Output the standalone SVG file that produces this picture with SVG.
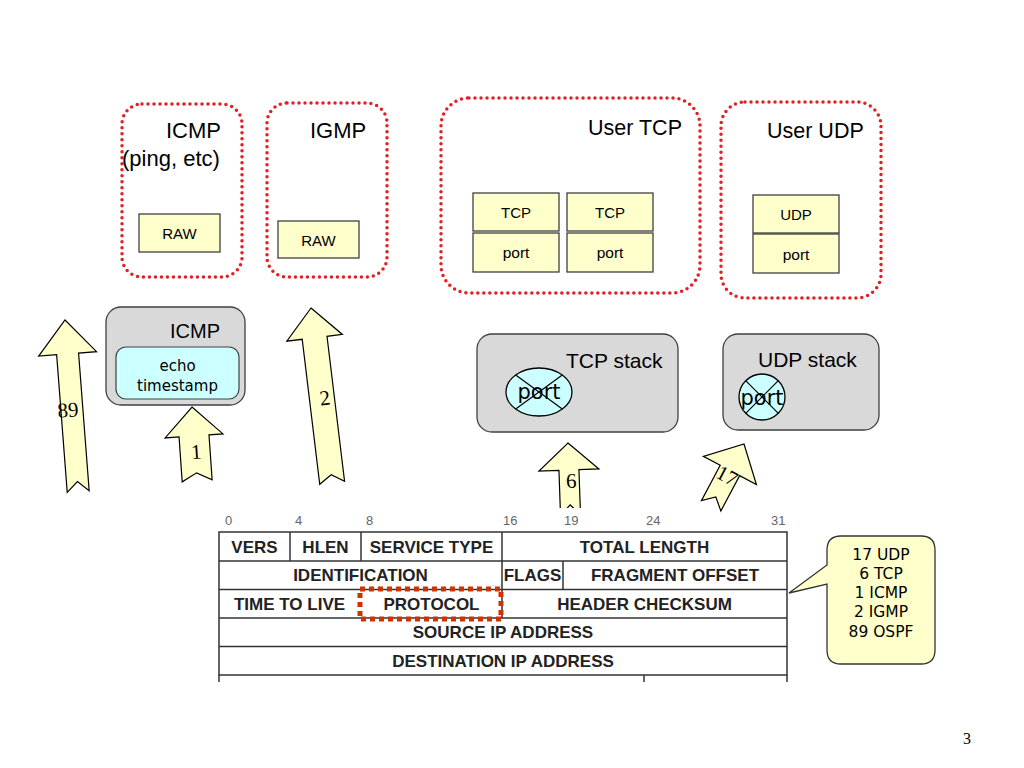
<svg xmlns="http://www.w3.org/2000/svg" width="1024" height="768" viewBox="0 0 1024 768">
<style>
.dot{fill:none;stroke:#e31e24;stroke-width:3.5;stroke-dasharray:0 6;stroke-linecap:round}
.t{font-family:"Liberation Sans",Arial,sans-serif;fill:#000}
.c{font-family:"DejaVu Sans","Noto Sans",sans-serif;fill:#000}
.ybox{fill:#ffffcc;stroke:#404040;stroke-width:1.3}
.gray{fill:#d9d9d9;stroke:#404040;stroke-width:1.3}
.arr{fill:#ffffcc;stroke:#000;stroke-width:1.2;stroke-linejoin:miter}
.al{font-family:"Liberation Serif","Times New Roman",serif;font-size:21px;fill:#000;text-anchor:middle}
.cell{stroke:#333;stroke-width:1.5;fill:none}
.tb{font-family:"Liberation Sans",Arial,sans-serif;font-weight:bold;font-size:17px;fill:#222;text-anchor:middle}
.bit{font-family:"Liberation Sans",Arial,sans-serif;font-size:13px;fill:#666}
</style>
<rect width="1024" height="768" fill="#fff"/>

<g id="user-icmp">
<rect class="dot" x="122" y="104" width="120" height="173" rx="20"/>
<text class="t" x="166" y="138" font-size="22">ICMP</text>
<text class="t" x="122" y="166" font-size="22">(ping, etc)</text>
<rect class="ybox" x="139" y="214" width="81" height="38"/>
<text class="t" x="179.5" y="239" font-size="15" text-anchor="middle">RAW</text>
</g>

<g id="user-igmp">
<rect class="dot" x="267" y="103" width="120" height="174" rx="20"/>
<text class="t" x="310" y="138" font-size="22">IGMP</text>
<rect class="ybox" x="278" y="221" width="81" height="37"/>
<text class="t" x="318.5" y="246" font-size="15" text-anchor="middle">RAW</text>
</g>

<g id="user-tcp">
<rect class="dot" x="441" y="98" width="259" height="195" rx="28"/>
<text class="t" x="588" y="135" font-size="21.5">User TCP</text>
<rect class="ybox" x="473" y="193" width="86" height="38"/>
<rect class="ybox" x="473" y="233" width="86" height="39"/>
<text class="t" x="516" y="218" font-size="15" text-anchor="middle">TCP</text>
<text class="t" x="516" y="258" font-size="15.5" text-anchor="middle">port</text>
<rect class="ybox" x="567" y="193" width="86" height="38"/>
<rect class="ybox" x="567" y="233" width="86" height="39"/>
<text class="t" x="610" y="218" font-size="15" text-anchor="middle">TCP</text>
<text class="t" x="610" y="258" font-size="15.5" text-anchor="middle">port</text>
</g>

<g id="user-udp">
<rect class="dot" x="721" y="102" width="160" height="196" rx="24"/>
<text class="t" x="767" y="138" font-size="21.5">User UDP</text>
<rect class="ybox" x="753" y="195" width="86" height="38"/>
<rect class="ybox" x="753" y="234" width="86" height="39"/>
<text class="t" x="796" y="220" font-size="15" text-anchor="middle">UDP</text>
<text class="t" x="796" y="260" font-size="15.5" text-anchor="middle">port</text>
</g>

<g id="icmp-stack">
<rect class="gray" x="106" y="307" width="139" height="98" rx="15"/>
<text class="t" x="170" y="338" font-size="20">ICMP</text>
<rect x="116" y="347" width="123" height="52" rx="10" fill="#ccffff" stroke="#404040" stroke-width="1.2"/>
<text class="c" x="177.5" y="371" font-size="15" text-anchor="middle">echo</text>
<text class="c" x="177.5" y="391" font-size="15" text-anchor="middle">timestamp</text>
</g>

<g id="tcp-stack">
<rect class="gray" x="477" y="334" width="201" height="98" rx="15"/>
<text class="t" x="566" y="368" font-size="21">TCP stack</text>
<ellipse cx="539" cy="392" rx="33" ry="24" fill="#ccffff" stroke="#000" stroke-width="1.3"/>
<line x1="515.7" y1="375" x2="562.3" y2="409" stroke="#000" stroke-width="1.2"/>
<line x1="562.3" y1="375" x2="515.7" y2="409" stroke="#000" stroke-width="1.2"/>
<text class="c" x="539" y="399" font-size="21" text-anchor="middle">port</text>
</g>

<g id="udp-stack">
<rect class="gray" x="723" y="334" width="156" height="96" rx="15"/>
<text class="t" x="758" y="367" font-size="21">UDP stack</text>
<circle cx="762" cy="397" r="23" fill="#ccffff" stroke="#000" stroke-width="1.3"/>
<line x1="745.7" y1="380.7" x2="778.3" y2="413.3" stroke="#000" stroke-width="1.2"/>
<line x1="778.3" y1="380.7" x2="745.7" y2="413.3" stroke="#000" stroke-width="1.2"/>
<text class="c" x="762" y="405" font-size="21" text-anchor="middle">port</text>
</g>

<g id="connectors">
<g transform="translate(65,320) rotate(-4.4)">
<polygon class="arr" points="0,0 29,34 11,34 11,172 0,162 -11,172 -11,34 -29,34"/>
<text class="al" x="-4" y="97">89</text>
</g>
<g transform="translate(192,407) rotate(-4)">
<polygon class="arr" points="0,0 29,29 15,29 15,74 0,66 -15,74 -15,29 -29,29"/>
<text class="al" x="1" y="52">1</text>
</g>
<g transform="translate(311,308) rotate(-6.9)">
<polygon class="arr" points="0,0 28,30 12.5,30 12.5,176 0,168 -12.5,176 -12.5,30 -28,30"/>
<text class="al" x="3" y="98">2</text>
</g>
<g transform="translate(568,443) rotate(-2)">
<polygon class="arr" points="0,0 30,27 10,27 10,72 0,62 -10,72 -10,27 -30,27"/>
<text class="al" x="2" y="45">6</text>
</g>
<rect x="215" y="508" width="480" height="180" fill="#fff"/>
<g transform="translate(744,444) rotate(28)">
<polygon class="arr" points="0,0 30,30 11,30 11,70 0,60 -11,70 -11,30 -30,30"/>
<text class="al" x="0" y="43">17</text>
</g>
</g>

<g id="ip-header">
<text class="bit" x="225" y="525">0</text>
<text class="bit" x="295" y="525">4</text>
<text class="bit" x="366" y="525">8</text>
<text class="bit" x="503" y="525">16</text>
<text class="bit" x="564" y="525">19</text>
<text class="bit" x="646" y="525">24</text>
<text class="bit" x="771" y="525">31</text>
<rect class="cell" x="219" y="532" width="568" height="143"/>
<line class="cell" x1="219" y1="561" x2="787" y2="561"/>
<line class="cell" x1="219" y1="589.5" x2="787" y2="589.5"/>
<line class="cell" x1="219" y1="618" x2="787" y2="618"/>
<line class="cell" x1="219" y1="646.5" x2="787" y2="646.5"/>
<line class="cell" x1="290" y1="532" x2="290" y2="561"/>
<line class="cell" x1="361" y1="532" x2="361" y2="561"/>
<line class="cell" x1="502" y1="532" x2="502" y2="618"/>
<line class="cell" x1="563" y1="561" x2="563" y2="589.5"/>
<line class="cell" x1="219" y1="675" x2="219" y2="682"/>
<line class="cell" x1="644" y1="675" x2="644" y2="682"/>
<line class="cell" x1="787" y1="675" x2="787" y2="682"/>
<text class="tb" x="254.5" y="553">VERS</text>
<text class="tb" x="325.5" y="553">HLEN</text>
<text class="tb" x="431.5" y="553">SERVICE TYPE</text>
<text class="tb" x="644.5" y="553">TOTAL LENGTH</text>
<text class="tb" x="360.5" y="581">IDENTIFICATION</text>
<text class="tb" x="532.5" y="581">FLAGS</text>
<text class="tb" x="675" y="581">FRAGMENT OFFSET</text>
<text class="tb" x="289.5" y="610">TIME TO LIVE</text>
<text class="tb" x="431.5" y="610">PROTOCOL</text>
<text class="tb" x="644.5" y="610">HEADER CHECKSUM</text>
<text class="tb" x="503" y="638">SOURCE IP ADDRESS</text>
<text class="tb" x="503" y="667">DESTINATION IP ADDRESS</text>
<rect x="360" y="589" width="141" height="30" fill="none" stroke="#cc3300" stroke-width="5" stroke-dasharray="5 4"/>
</g>

<g id="callout">
<path d="M841,536 H921 Q935,536 935,550 V650 Q935,664 921,664 H841 Q827,664 827,650 V584 L789,593 L827,565 V550 Q827,536 841,536 Z" fill="#ffffcc" stroke="#333" stroke-width="1.3"/>
<text class="c" x="881" y="560" font-size="15.5" text-anchor="middle">17 UDP</text>
<text class="c" x="881" y="579" font-size="15.5" text-anchor="middle">6 TCP</text>
<text class="c" x="881" y="598" font-size="15.5" text-anchor="middle">1 ICMP</text>
<text class="c" x="881" y="617" font-size="15.5" text-anchor="middle">2 IGMP</text>
<text class="c" x="881" y="637" font-size="15.5" text-anchor="middle">89 OSPF</text>
</g>

<text x="963" y="744" font-family="Liberation Serif,serif" font-size="16" fill="#000">3</text>
</svg>
